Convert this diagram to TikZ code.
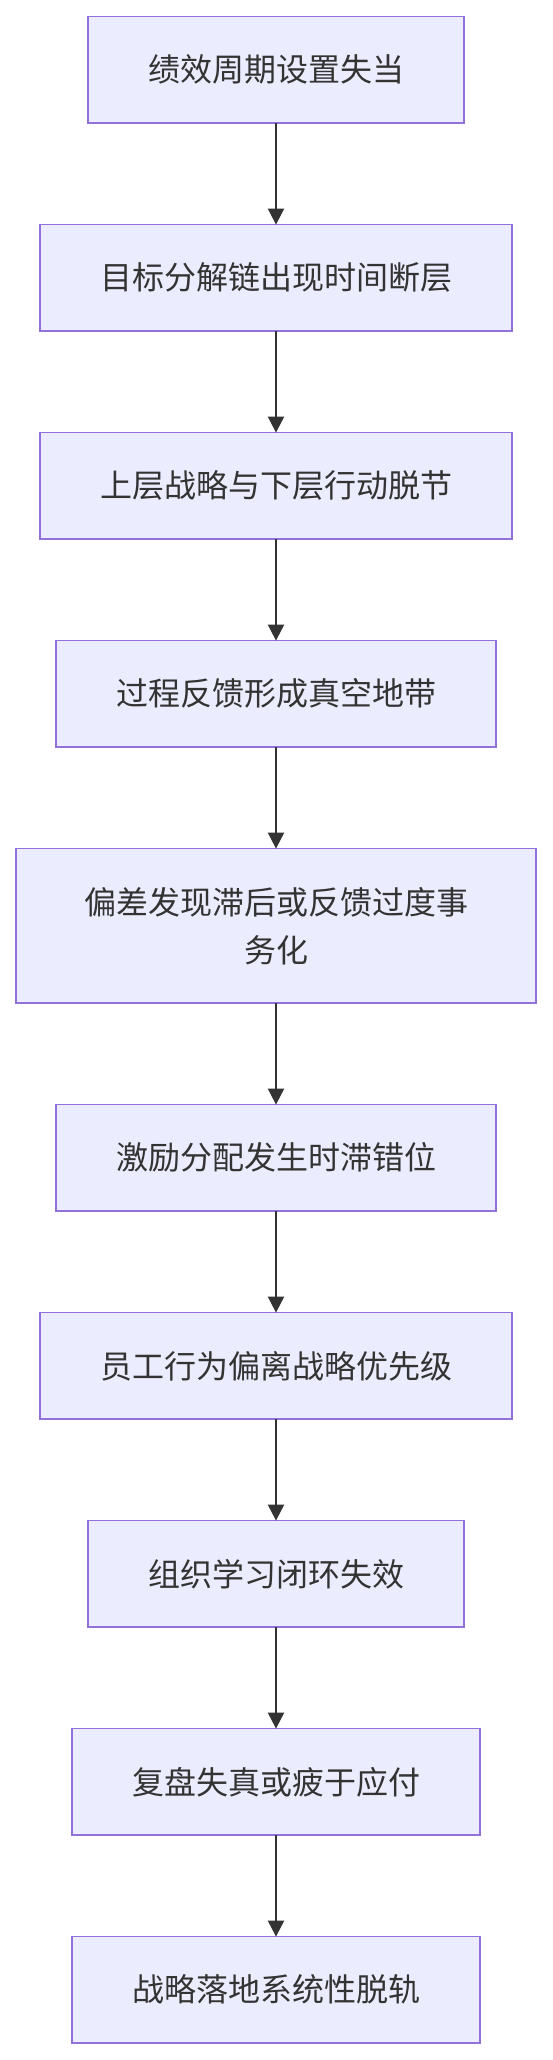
\documentclass[tikz,border=0pt]{standalone}
\usepackage{fontspec}
\newfontfamily\cjkfont{Noto Sans CJK SC}
\usetikzlibrary{arrows.meta,positioning}

\definecolor{boxfill}{HTML}{ECECFF}
\definecolor{boxline}{HTML}{9370DB}
\definecolor{inkgray}{HTML}{333333}

\begin{document}
\begin{tikzpicture}[
  font=\cjkfont\fontsize{32}{48}\selectfont,
  node distance=101.6pt,
  arrow/.style={-{Triangle[length=16pt,width=16pt]}, draw=inkgray, line width=2pt},
  stepbox/.style={draw=boxline, fill=boxfill, line width=1.6pt, text=inkgray,
    align=center, inner xsep=60pt, minimum height=106.4pt, outer sep=0pt},
  widebox/.style={stepbox, text width=400pt, minimum height=154.4pt}
]
\useasboundingbox (0,0) rectangle (552pt,-2060pt);

% Chain of causes, top to bottom
\node[stepbox] (cycle) at (276pt,-69.8pt) {绩效周期设置失当};
\node[stepbox, below=of cycle] (decomp) {目标分解链出现时间断层};
\node[stepbox, below=of decomp] (layers) {上层战略与下层行动脱节};
\node[stepbox, below=of layers] (feedback) {过程反馈形成真空地带};
\node[widebox, below=of feedback] (deviation) {偏差发现滞后或反馈过度事\\务化};
\node[stepbox, below=of deviation] (incentive) {激励分配发生时滞错位};
\node[stepbox, below=of incentive] (behavior) {员工行为偏离战略优先级};
\node[stepbox, below=of behavior] (learning) {组织学习闭环失效};
\node[stepbox, below=of learning] (review) {复盘失真或疲于应付};
\node[stepbox, below=of review] (derail) {战略落地系统性脱轨};

% Arrows
\draw[arrow] (cycle) -- (decomp);
\draw[arrow] (decomp) -- (layers);
\draw[arrow] (layers) -- (feedback);
\draw[arrow] (feedback) -- (deviation);
\draw[arrow] (deviation) -- (incentive);
\draw[arrow] (incentive) -- (behavior);
\draw[arrow] (behavior) -- (learning);
\draw[arrow] (learning) -- (review);
\draw[arrow] (review) -- (derail);

\end{tikzpicture}
\end{document}
